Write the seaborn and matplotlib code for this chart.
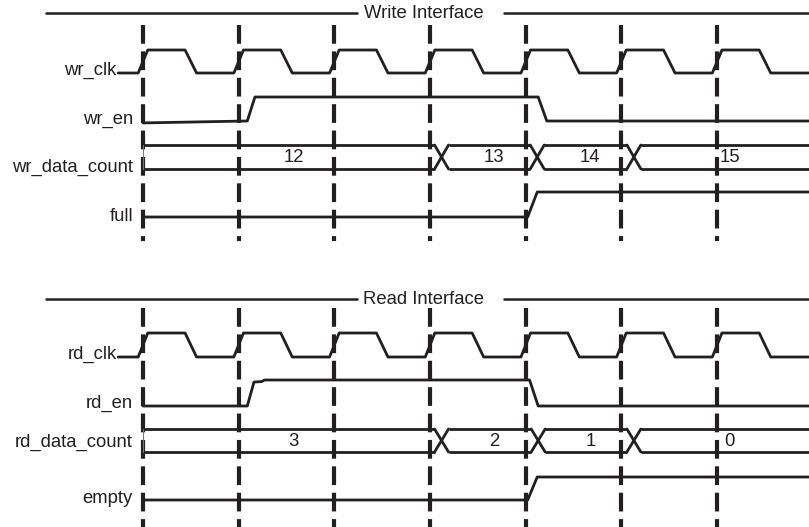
import numpy as np
import pandas as pd
import matplotlib
matplotlib.use("Agg")
import matplotlib.pyplot as plt
import seaborn as sns

# ---------------- data (time in clock periods, level 0 = low, 1 = high) ----
clock_edges = [0, 1, 2, 3, 4, 5, 6]

wr_en_t = [0.0, 1.09, 1.17, 4.13, 4.22, 6.96]
wr_en_lvl = [-0.08, 0.0, 1.0, 1.0, 0.0, 0.0]

wr_count_change = [3.12, 4.12, 5.13]
wr_count_vals = ["12", "13", "14", "15"]

full_t = [0.0, 4.02, 4.12, 6.96]
full_lvl = [0, 0, 1, 1]

rd_en_t = [0.0, 1.09, 1.16, 1.24, 1.27, 4.04, 4.13, 6.96]
rd_en_lvl = [0.0, 0.0, 0.92, 0.94, 1.0, 1.0, 0.0, 0.0]

rd_count_change = [3.12, 4.13, 5.13]
rd_count_vals = ["3", "2", "1", "0"]

empty_t = [0.0, 4.02, 4.12, 6.96]
empty_lvl = [0, 0, 1, 1]

labels_write = ["wr_clk", "wr_en", "wr_data_count", "full"]
labels_read = ["rd_clk", "rd_en", "rd_data_count", "empty"]
titles = ["Write Interface", "Read Interface"]

# ---------------- layout (pixel rows, y grows downward) --------------------
T0, T1 = -1.494, 6.96          # visible time range
CLK_START = -0.26
rows = {                        # (y_low, y_high)
    "wr_clk": (73, 50), "wr_en": (121, 97), "wr_data_count": (169, 145),
    "full": (217, 192),
    "rd_clk": (357, 333), "rd_en": (406, 380), "rd_data_count": (452, 429),
    "empty": (500, 477),
}
label_base = {
    "wr_clk": 75, "wr_en": 124, "wr_data_count": 172, "full": 221,
    "rd_clk": 359, "rd_en": 408, "rd_data_count": 447, "empty": 503,
}
header_y = [13, 299]
dash_span = [(25, 241), (308, 530)]
INK = "#231f20"
LW = 2.0
HX = 0.073   # half width of bus crossing
FS = 13.3

sns.set_theme(style="white")
plt.rcParams["font.family"] = ["Liberation Sans", "DejaVu Sans"]
plt.rcParams["lines.scale_dashes"] = False

fig = plt.figure(figsize=(8.09, 5.27), dpi=100)
ax = fig.add_axes([0, 0, 1, 1])
ax.set_xlim(T0, T1)
ax.set_ylim(527, 0)
ax.axis("off")


def ymap(row, lvl):
    lo, hi = rows[row]
    return lo + (hi - lo) * np.asarray(lvl, dtype=float)


def wave(row, t, lvl):
    df = pd.DataFrame({"t": t, "y": ymap(row, lvl)})
    sns.lineplot(data=df, x="t", y="y", sort=False, estimator=None,
                 color=INK, lw=LW, ax=ax, legend=False)


def clock(row):
    t = [CLK_START]
    lv = [0]
    for e in clock_edges:
        t += [e - 0.05, e + 0.05, e + 0.44, e + 0.56]
        lv += [0, 1, 1, 0]
    t.append(T1)
    lv.append(0)
    wave(row, t, lv)


def bus(row, changes, vals):
    lo, hi = rows[row]
    starts = [0.0] + [c + HX for c in changes]
    ends = [c - HX for c in changes] + [T1]
    for a, b in zip(starts, ends):
        ax.plot([a, b], [hi, hi], color=INK, lw=LW, solid_capstyle="butt")
        ax.plot([a, b], [lo, lo], color=INK, lw=LW, solid_capstyle="butt")
    for c in changes:
        ax.plot([c - HX, c + HX], [hi, lo], color=INK, lw=LW)
        ax.plot([c - HX, c + HX], [lo, hi], color=INK, lw=LW)
    ax.plot([0, 0], [hi, lo], color="#777777", lw=0.8)
    for i, v in enumerate(vals):
        xc = (starts[i] + ends[i]) / 2 + 0.05
        ax.text(xc, (lo + hi) / 2 + 0.5, v,
                ha="center", va="center", fontsize=FS, color=INK)


def label(name, clk=False):
    x = -0.275 if clk else -0.105
    ax.text(x, label_base[name], name, ha="right", va="baseline",
            fontsize=FS, color=INK)


# dashed clock-edge markers
for (y0, y1) in dash_span:
    for e in clock_edges:
        ax.plot([e, e], [y0, y1], color=INK, lw=3.0,
                dashes=(13.5, 5.5), solid_capstyle="butt",
                dash_capstyle="butt")

# headers
for y, title in zip(header_y, titles):
    ax.plot([-1.014, 2.236], [y, y], color=INK, lw=1.8)
    ax.plot([3.772, T1], [y, y], color=INK, lw=1.8)
    ax.text(2.93, y + 1, title, ha="center", va="center",
            fontsize=FS, color=INK)

# write interface
clock("wr_clk")
wave("wr_en", wr_en_t, wr_en_lvl)
bus("wr_data_count", wr_count_change, wr_count_vals)
wave("full", full_t, full_lvl)

# read interface
clock("rd_clk")
wave("rd_en", rd_en_t, rd_en_lvl)
bus("rd_data_count", rd_count_change, rd_count_vals)
wave("empty", empty_t, empty_lvl)

for n in labels_write + labels_read:
    label(n, clk=n.endswith("clk"))

ax.set_xlim(T0, T1)
ax.set_ylim(527, 0)
fig.savefig("out.png", dpi=100, facecolor="white")
